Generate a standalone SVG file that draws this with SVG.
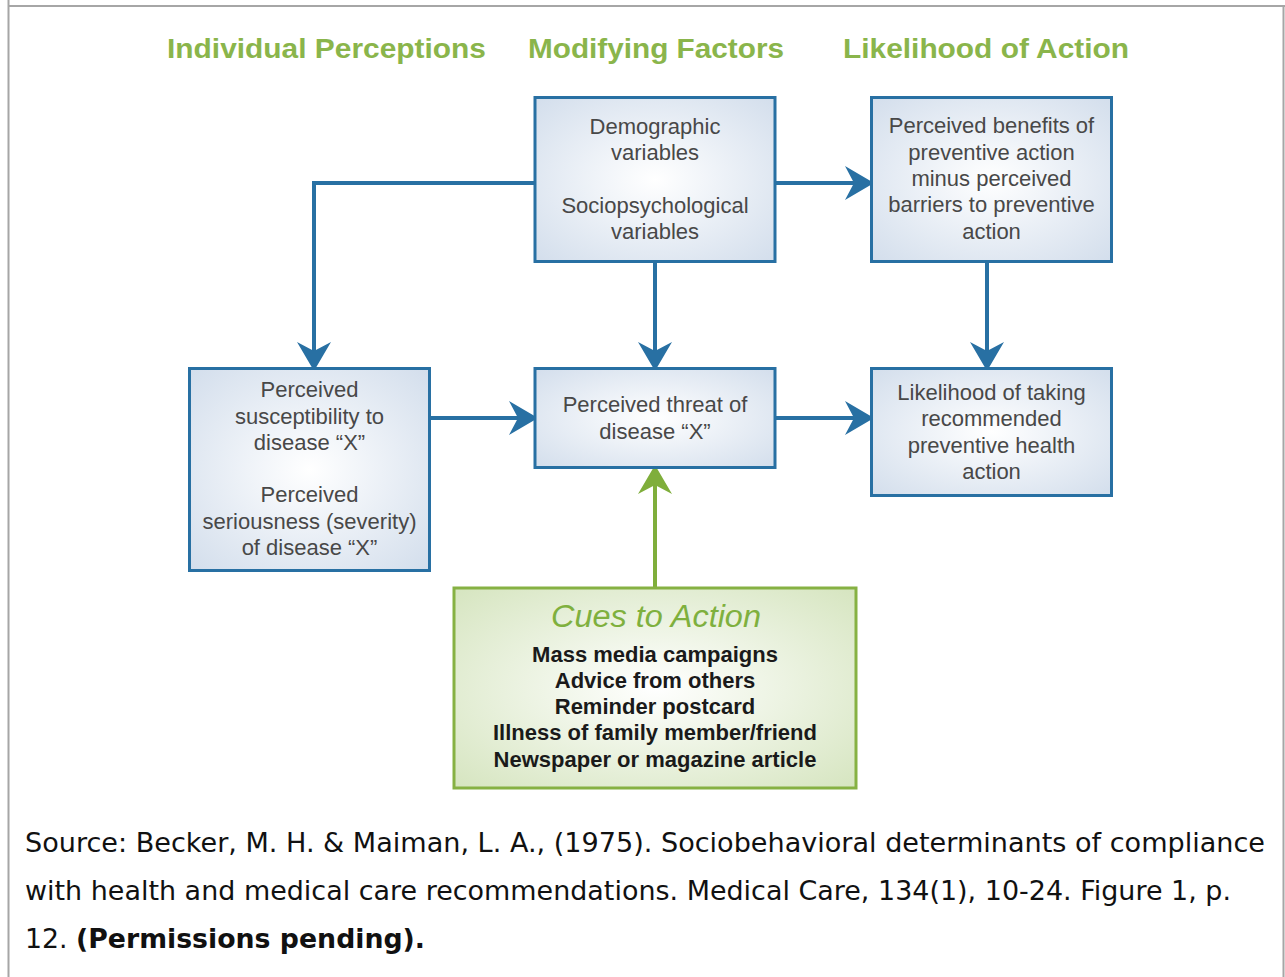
<svg xmlns="http://www.w3.org/2000/svg" width="1285" height="977" viewBox="0 0 1285 977">
<style>
.frame{stroke:#a6a6a6;stroke-width:2;fill:none}
.hdr{font-family:"Liberation Sans",Arial,sans-serif;font-weight:bold;font-size:28px;fill:#8ab54b;text-anchor:middle}
.box{fill:url(#bg);stroke:#2870a3;stroke-width:3}
.gbox{fill:url(#gg);stroke:#86b143;stroke-width:3}
.t{font-family:"Liberation Sans",Arial,sans-serif;font-size:22px;fill:#484848;text-anchor:middle}
.c{font-family:"Liberation Sans",Arial,sans-serif;font-size:22px;font-weight:bold;fill:#1a1a1a;text-anchor:middle}
.ct{font-family:"Liberation Sans",Arial,sans-serif;font-size:31px;font-style:italic;fill:#7fb03e;text-anchor:middle}
.src{font-family:"DejaVu Sans",Verdana,sans-serif;font-size:26px;fill:#111}
.ln{fill:none;stroke:#2870a3;stroke-width:4}
.gln{fill:none;stroke:#7fae3b;stroke-width:4}
</style>
<defs>
<radialGradient id="bg" cx="50%" cy="50%" r="70%">
<stop offset="0" stop-color="#ffffff"/>
<stop offset="1" stop-color="#d3deec"/>
</radialGradient>
<radialGradient id="gg" cx="50%" cy="50%" r="70%">
<stop offset="0" stop-color="#ffffff"/>
<stop offset="1" stop-color="#d6e5c0"/>
</radialGradient>
<marker id="ab" markerUnits="userSpaceOnUse" viewBox="0 -18 30 36" markerWidth="30" markerHeight="36" refX="13" refY="0" orient="auto">
<path d="M0,-17 L29,0 L0,17 L9,0 Z" fill="#2870a3"/>
</marker>
<marker id="ag" markerUnits="userSpaceOnUse" viewBox="0 -18 30 36" markerWidth="30" markerHeight="36" refX="13" refY="0" orient="auto">
<path d="M0,-17 L29,0 L0,17 L9,0 Z" fill="#7fae3b"/>
</marker>
</defs>
<rect width="1285" height="977" fill="#ffffff"/>
<g id="frame">
<line class="frame" x1="8.5" y1="0" x2="8.5" y2="977"/>
<line class="frame" x1="9" y1="6" x2="1285" y2="6"/>
<line class="frame" x1="1283.5" y1="6" x2="1283.5" y2="977"/>
</g>
<g id="headers">
<text class="hdr" x="326.5" y="58" textLength="319" lengthAdjust="spacingAndGlyphs">Individual Perceptions</text>
<text class="hdr" x="656" y="58" textLength="256" lengthAdjust="spacingAndGlyphs">Modifying Factors</text>
<text class="hdr" x="986" y="58" textLength="286" lengthAdjust="spacingAndGlyphs">Likelihood of Action</text>
</g>
<g id="connectors">
<path class="ln" d="M535,183 H314 V355" marker-end="url(#ab)"/>
<path class="ln" d="M775,183 H858" marker-end="url(#ab)"/>
<path class="ln" d="M655,262 V355" marker-end="url(#ab)"/>
<path class="ln" d="M987,262 V355" marker-end="url(#ab)"/>
<path class="ln" d="M430,418 H522" marker-end="url(#ab)"/>
<path class="ln" d="M775,418 H858" marker-end="url(#ab)"/>
<path class="gln" d="M655,587 V481" marker-end="url(#ag)"/>
</g>
<g id="modifying">
<rect class="box" x="535" y="97.5" width="240" height="164"/>
<text class="t" x="655" y="134">Demographic</text>
<text class="t" x="655" y="160">variables</text>
<text class="t" x="655" y="213">Sociopsychological</text>
<text class="t" x="655" y="239">variables</text>
</g>
<g id="benefits">
<rect class="box" x="871.5" y="97.5" width="240" height="164"/>
<text class="t" x="991.5" y="133">Perceived benefits of</text>
<text class="t" x="991.5" y="159.5">preventive action</text>
<text class="t" x="991.5" y="186">minus perceived</text>
<text class="t" x="991.5" y="212">barriers to preventive</text>
<text class="t" x="991.5" y="238.5">action</text>
</g>
<g id="susceptibility">
<rect class="box" x="189.5" y="368.5" width="240" height="202"/>
<text class="t" x="309.5" y="397">Perceived</text>
<text class="t" x="309.5" y="423.5">susceptibility to</text>
<text class="t" x="309.5" y="450">disease “X”</text>
<text class="t" x="309.5" y="502">Perceived</text>
<text class="t" x="309.5" y="529">seriousness (severity)</text>
<text class="t" x="309.5" y="555">of disease “X”</text>
</g>
<g id="threat">
<rect class="box" x="535" y="368.5" width="240" height="99"/>
<text class="t" x="655" y="412">Perceived threat of</text>
<text class="t" x="655" y="438.5">disease “X”</text>
</g>
<g id="likelihood">
<rect class="box" x="871.5" y="368.5" width="240" height="127"/>
<text class="t" x="991.5" y="399.5">Likelihood of taking</text>
<text class="t" x="991.5" y="426">recommended</text>
<text class="t" x="991.5" y="453">preventive health</text>
<text class="t" x="991.5" y="479">action</text>
</g>
<g id="cues">
<rect class="gbox" x="454" y="588" width="402" height="200"/>
<text class="ct" x="656" y="627" textLength="210" lengthAdjust="spacingAndGlyphs">Cues to Action</text>
<text class="c" x="655" y="662">Mass media campaigns</text>
<text class="c" x="655" y="688">Advice from others</text>
<text class="c" x="655" y="714">Reminder postcard</text>
<text class="c" x="655" y="740">Illness of family member/friend</text>
<text class="c" x="655" y="767">Newspaper or magazine article</text>
</g>
<g id="source">
<text class="src" x="25" y="852" textLength="1240" lengthAdjust="spacingAndGlyphs">Source: Becker, M. H. &amp; Maiman, L. A., (1975). Sociobehavioral determinants of compliance</text>
<text class="src" x="25" y="900" textLength="1206" lengthAdjust="spacingAndGlyphs">with health and medical care recommendations. Medical Care, 134(1), 10-24. Figure 1, p.</text>
<text class="src" x="25" y="948" textLength="400" lengthAdjust="spacingAndGlyphs">12. <tspan font-weight="bold">(Permissions pending).</tspan></text>
</g>
</svg>
